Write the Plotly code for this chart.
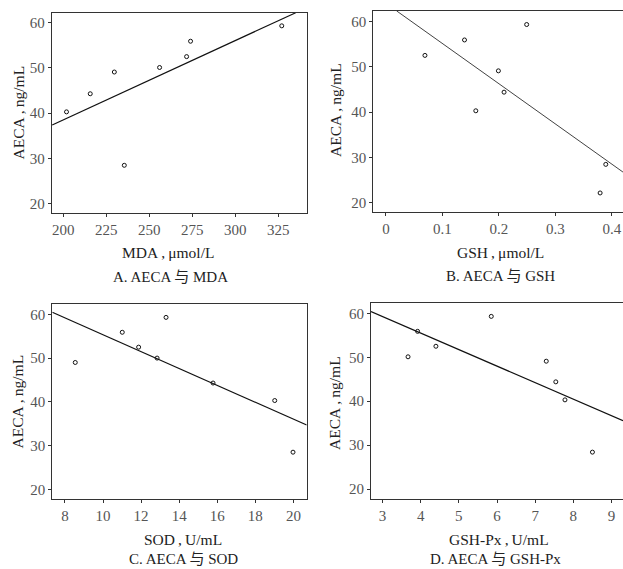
import plotly.graph_objects as go

# ---------------- data ----------------
mda = [201.9, 215.7, 229.7, 235.5, 256.0, 271.7, 274.0, 327.0]
aeca_mda = [40.3, 44.3, 49.1, 28.5, 50.1, 52.5, 55.9, 59.3]
fit_mda_x = [193.6, 335.1]
fit_mda_y = [37.4, 62.2]

gsh = [0.069, 0.139, 0.159, 0.199, 0.209, 0.249, 0.379, 0.389]
aeca_gsh = [52.5, 55.9, 40.3, 49.1, 44.4, 59.3, 22.2, 28.5]
fit_gsh_x = [0.0189, 0.4195]
fit_gsh_y = [62.3, 26.8]

sod = [8.54, 11.01, 11.87, 12.84, 13.31, 15.78, 19.02, 19.98]
aeca_sod = [49.0, 55.9, 52.5, 50.0, 59.3, 44.3, 40.3, 28.5]
fit_sod_x = [7.334, 20.70]
fit_sod_y = [60.46, 34.7]

gshpx = [3.67, 3.92, 4.40, 5.85, 7.29, 7.54, 7.78, 8.50]
aeca_gshpx = [50.1, 55.9, 52.5, 59.3, 49.1, 44.4, 40.3, 28.4]
fit_gshpx_x = [2.70, 9.30]
fit_gshpx_y = [60.4, 35.56]

y_ticks = [20, 30, 40, 50, 60]
mda_ticks = [200, 225, 250, 275, 300, 325]
gsh_ticks = [0, 0.1, 0.2, 0.3, 0.4]
gsh_ticktext = ["0", "0.1", "0.2", "0.3", "0.4"]
sod_ticks = [8, 10, 12, 14, 16, 18, 20]
gshpx_ticks = [3, 4, 5, 6, 7, 8, 9]

x_titles = ["MDA\u2009,\u2009μmol/L", "GSH\u2009,\u2009μmol/L",
            "SOD\u2009,\u2009U/mL", "GSH-Px\u2009,\u2009U/mL"]
y_title = "AECA\u2009,\u2009ng/mL"
sub_titles = ["A. AECA 与 MDA", "B. AECA 与 GSH", "C. AECA 与 SOD", "D. AECA 与 GSH-Px"]

# ---------------- layout helpers ----------------
W, H = 623, 569
FONT = "'Liberation Serif', 'Noto Sans CJK SC', serif"

def px_x(p):
    return p / W

def px_y(p):
    return 1 - p / H

panels = [
    dict(x=mda, y=aeca_mda, fx=fit_mda_x, fy=fit_mda_y,
         xdom=[px_x(51.7), px_x(306.7)], ydom=[px_y(213.3), px_y(12.7)],
         xr=[193.3, 341.5], yr=[17.9, 62.2], tv=mda_ticks, tt=None,
         mirror_y=True, lw=1.2,
         xt=(168, 252), st=(170, 277), yt=(17.5, 113)),
    dict(x=gsh, y=aeca_gsh, fx=fit_gsh_x, fy=fit_gsh_y,
         xdom=[px_x(373.3), 1.0], ydom=[px_y(212.3), px_y(11)],
         xr=[-0.0224, 0.4195], yr=[17.94, 62.28], tv=gsh_ticks, tt=gsh_ticktext,
         mirror_y=False, lw=0.8,
         xt=(500, 252), st=(500, 276), yt=(336, 110)),
    dict(x=sod, y=aeca_sod, fx=fit_sod_x, fy=fit_sod_y,
         xdom=[px_x(52.3), px_x(306.7)], ydom=[px_y(498.7), px_y(304)],
         xr=[7.334, 20.70], yr=[17.87, 62.36], tv=sod_ticks, tt=None,
         mirror_y=True, lw=1.2,
         xt=(183, 539), st=(183, 558.5), yt=(16.5, 402)),
    dict(x=gshpx, y=aeca_gshpx, fx=fit_gshpx_x, fy=fit_gshpx_y,
         xdom=[px_x(371), 1.0], ydom=[px_y(498.7), px_y(303.3)],
         xr=[2.70, 9.30], yr=[17.8, 62.28], tv=gshpx_ticks, tt=None,
         mirror_y=False, lw=1.2,
         xt=(499, 539), st=(495, 558.5), yt=(334, 403)),
]

fig = go.Figure()
annotations = []
layout = dict(
    width=W, height=H,
    margin=dict(l=0, r=0, t=0, b=0),
    paper_bgcolor="white", plot_bgcolor="white",
    showlegend=False,
    font=dict(family=FONT, size=14, color="#444"),
)

for i, p in enumerate(panels):
    n = i + 1
    xa = "x" if n == 1 else f"x{n}"
    ya = "y" if n == 1 else f"y{n}"
    fig.add_trace(go.Scatter(
        x=p["fx"], y=p["fy"], mode="lines",
        line=dict(color="#111", width=p["lw"]),
        xaxis=xa, yaxis=ya, hoverinfo="skip"))
    fig.add_trace(go.Scatter(
        x=p["x"], y=p["y"], mode="markers",
        marker=dict(symbol="circle-open", size=4, color="#111",
                    line=dict(width=1, color="#111")),
        xaxis=xa, yaxis=ya, cliponaxis=False))
    xkey = "xaxis" if n == 1 else f"xaxis{n}"
    ykey = "yaxis" if n == 1 else f"yaxis{n}"
    xdict = dict(domain=p["xdom"], range=p["xr"], anchor=ya,
                 showgrid=False, zeroline=False,
                 showline=True, linecolor="#333", linewidth=1, mirror=True,
                 ticks="outside", ticklen=3, tickwidth=1, tickcolor="#333",
                 tickvals=p["tv"],
                 tickfont=dict(family=FONT, size=15, color="#555"))
    if p["tt"] is not None:
        xdict["ticktext"] = p["tt"]
    ydict = dict(domain=p["ydom"], range=p["yr"], anchor=xa,
                 showgrid=False, zeroline=False,
                 showline=True, linecolor="#333", linewidth=1, mirror=p["mirror_y"],
                 ticks="outside", ticklen=3, tickwidth=1, tickcolor="#333",
                 tickvals=y_ticks,
                 tickfont=dict(family=FONT, size=15, color="#555"))
    layout[xkey] = xdict
    layout[ykey] = ydict

    annotations.append(dict(
        x=px_x(p["xt"][0]), y=px_y(p["xt"][1]), xref="paper", yref="paper",
        text=x_titles[i], showarrow=False, xanchor="center", yanchor="middle",
        font=dict(family=FONT, size=15.5, color="#222")))
    annotations.append(dict(
        x=px_x(p["st"][0]), y=px_y(p["st"][1]), xref="paper", yref="paper",
        text=sub_titles[i], showarrow=False, xanchor="center", yanchor="middle",
        font=dict(family=FONT, size=15, color="#222")))
    annotations.append(dict(
        x=px_x(p["yt"][0]), y=px_y(p["yt"][1]), xref="paper", yref="paper",
        text=y_title, showarrow=False, xanchor="center", yanchor="middle",
        textangle=-90,
        font=dict(family=FONT, size=15.5, color="#222")))

layout["annotations"] = annotations
fig.update_layout(**layout)
fig.write_html("out.html", config={"displayModeBar": False},
               post_script="document.body.style.margin='0';document.body.style.overflow='hidden';")
